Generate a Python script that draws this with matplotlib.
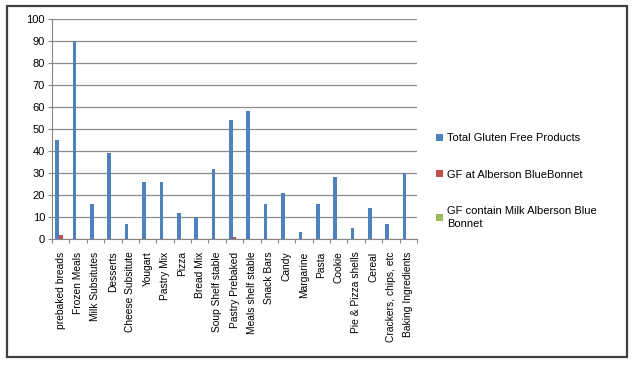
import matplotlib
import matplotlib.pyplot as plt
import numpy as np
from matplotlib.patches import Rectangle

matplotlib.use("Agg")

CATEGORIES = [
    "prebaked breads", "Frozen Meals", "Milk Subsitutes", "Desserts",
    "Cheese Subsitute", "Yougart", "Pastry Mix", "Pizza", "Bread Mix",
    "Soup Shelf stable", "Pastry Prebaked", "Meals shelf stable",
    "Snack Bars", "Candy", "Margarine", "Pasta", "Cookie",
    "Pie & Pizza shells", "Cereal", "Crackers, chips, etc",
    "Baking Ingredients",
]
TOTAL_GF = [45, 90, 16, 39, 7, 26, 26, 12, 10, 32, 54, 58, 16, 21, 3, 16, 28, 5, 14, 7, 30]
GF_ALBERSON = [2, 0, 0, 0, 0, 0, 0, 0, 0, 0, 1, 0, 0, 0, 0, 0, 0, 0, 0, 0, 0]
GF_MILK = [0] * len(CATEGORIES)

SERIES = [
    ("Total Gluten Free Products", TOTAL_GF, "#4F81BD"),
    ("GF at Alberson BlueBonnet", GF_ALBERSON, "#C0504D"),
    ("GF contain Milk Alberson Blue\nBonnet", GF_MILK, "#9BBB59"),
]

W, H = 635, 365
plt.rcParams["font.family"] = ["Liberation Sans", "DejaVu Sans"]

fig = plt.figure(figsize=(W / 100, H / 100), dpi=100)
ax = fig.add_axes([52 / W, 1 - 239 / H, (417 - 52) / W, (239 - 19) / H])

x = np.arange(len(CATEGORIES))
bw = 0.21
handles = []
for k, (label, vals, color) in enumerate(SERIES):
    b = ax.bar(x + (k - 1) * bw, vals, width=bw, color=color, label=label, zorder=3)
    handles.append(b)

ax.set_xlim(-0.5, len(CATEGORIES) - 0.5)
ax.set_ylim(0, 100)
ax.set_yticks(range(0, 101, 10))
ax.tick_params(axis="y", labelsize=8, length=3, color="#868686", pad=2)
ax.grid(axis="y", color="#8C8C8C", linewidth=0.9, zorder=0)

# category boundary ticks, labels centred on each category
ax.set_xticks(np.arange(len(CATEGORIES) + 1) - 0.5)
ax.set_xticklabels([])
ax.tick_params(axis="x", which="major", length=3, color="#868686")
ax.set_xticks(x, minor=True)
ax.set_xticklabels(CATEGORIES, minor=True, rotation=90, fontsize=7.4, va="top", ha="center")
ax.tick_params(axis="x", which="minor", length=0, pad=9)

for side in ("top", "right"):
    ax.spines[side].set_visible(False)
for side in ("left", "bottom"):
    ax.spines[side].set_color("#868686")

leg = ax.legend(handles=handles, loc="upper left", bbox_to_anchor=(436 / W, 1 - 133 / H),
                bbox_transform=fig.transFigure, frameon=False, fontsize=8,
                handlelength=0.6, handleheight=0.6, handletextpad=0.4,
                labelspacing=2.4, borderpad=0, borderaxespad=0)
leg.get_texts()[2].set_linespacing(1.35)

fig.patches.append(Rectangle((7 / W, 1 - 357 / H), (627 - 7) / W, (357 - 6) / H,
                             transform=fig.transFigure, fill=False,
                             edgecolor="#404040", linewidth=1.6))

fig.savefig("out.png", dpi=100)
